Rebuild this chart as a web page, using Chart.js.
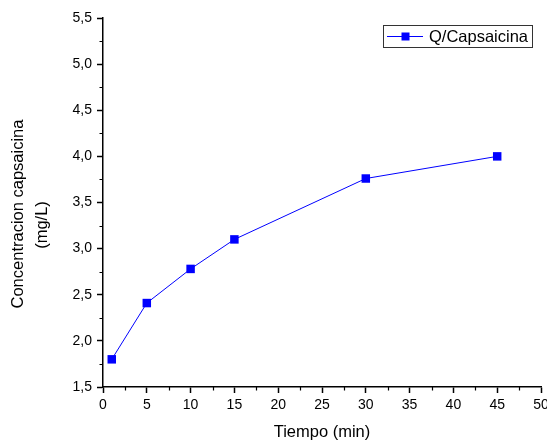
<!DOCTYPE html>
<html>
<head>
<meta charset="utf-8">
<script src="https://cdn.jsdelivr.net/npm/chart.js@4.4.1/dist/chart.umd.min.js"></script>
<style>
  html, body { margin: 0; padding: 0; background: #fff; }
  canvas { display: block; }
</style>
</head>
<body>
<canvas id="chart" width="547" height="444"></canvas>
<script>
// ── Data ──────────────────────────────────────────────────────────────────
const tiempo       = [1, 5, 10, 15, 30, 45];
const capsaicina   = [1.80, 2.41, 2.78, 3.10, 3.76, 4.00];
const seriesLabel  = 'Q/Capsaicina';
const xTitle       = 'Tiempo (min)';
const yTitle       = ['Concentracion capsaicina', '(mg/L)'];
const xMinorTicks  = [2.5, 7.5, 12.5, 17.5, 22.5, 27.5, 32.5, 37.5, 42.5, 47.5];
const yMinorTicks  = [1.75, 2.25, 2.75, 3.25, 3.75, 4.25, 4.75, 5.25];

const FONT = "'Liberation Sans', Arial, sans-serif";
const BLUE = '#0000ff';

// ── Minor ticks, axis titles and legend box ───────────────────────────────
const extras = {
  id: 'extras',
  afterDraw(chart) {
    const ctx = chart.ctx;
    const xs = chart.scales.x, ys = chart.scales.y;
    const area = chart.chartArea;

    ctx.save();
    ctx.strokeStyle = '#000';
    ctx.lineWidth = 1.2;
    ctx.beginPath();
    xMinorTicks.forEach(v => {
      const px = Math.round(xs.getPixelForValue(v)) + 0.5;
      ctx.moveTo(px, area.bottom);
      ctx.lineTo(px, area.bottom + 3.5);
    });
    yMinorTicks.forEach(v => {
      const py = Math.round(ys.getPixelForValue(v)) + 0.5;
      ctx.moveTo(area.left, py);
      ctx.lineTo(area.left - 3.5, py);
    });
    ctx.stroke();

    // axis titles
    ctx.fillStyle = '#000';
    ctx.font = `16.5px ${FONT}`;
    ctx.textAlign = 'center';
    ctx.textBaseline = 'middle';
    ctx.fillText(xTitle, 322, 432);

    ctx.save();
    ctx.translate(18, 214);
    ctx.rotate(-Math.PI / 2);
    ctx.fillText(yTitle[0], 0, 0);
    ctx.restore();
    ctx.save();
    ctx.translate(42, 225);
    ctx.rotate(-Math.PI / 2);
    ctx.fillText(yTitle[1], 0, 0);
    ctx.restore();

    // legend
    const ds = chart.data.datasets[0];
    ctx.strokeStyle = '#333';
    ctx.lineWidth = 1;
    ctx.strokeRect(383.5, 25.5, 149, 22);
    ctx.strokeStyle = ds.borderColor;
    ctx.beginPath();
    ctx.moveTo(387, 36.5);
    ctx.lineTo(423, 36.5);
    ctx.stroke();
    ctx.fillStyle = ds.pointBackgroundColor;
    ctx.fillRect(401.5, 32.5, 8, 8);
    ctx.fillStyle = '#000';
    ctx.textAlign = 'left';
    ctx.fillText(ds.label, 429, 37);
    ctx.restore();
  }
};

new Chart(document.getElementById('chart'), {
  type: 'line',
  data: {
    datasets: [{
      label: seriesLabel,
      data: tiempo.map((t, i) => ({ x: t, y: capsaicina[i] })),
      borderColor: BLUE,
      borderWidth: 1,
      pointStyle: 'rect',
      pointRadius: 6,
      pointBorderWidth: 0,
      pointBackgroundColor: BLUE,
      pointBorderColor: BLUE,
      tension: 0,
    }],
  },
  options: {
    responsive: false,
    animation: false,
    devicePixelRatio: 1,
    layout: { padding: { left: 0, top: 18, right: 5, bottom: 0 } },
    plugins: { legend: { display: false }, tooltip: { enabled: false } },
    scales: {
      x: {
        type: 'linear',
        min: 0, max: 50,
        border: { display: true, color: '#000', width: 1.5 },
        grid: { drawOnChartArea: false, drawTicks: true, tickLength: 6, tickColor: '#000', tickWidth: 1.5 },
        ticks: { stepSize: 5, color: '#000', font: { family: FONT, size: 14 }, padding: 4, maxRotation: 0 },
        afterFit: s => { s.height = 57; s.paddingLeft = 0; s.paddingRight = 0; },
      },
      y: {
        type: 'linear',
        min: 1.5, max: 5.5,
        border: { display: true, color: '#000', width: 1.5 },
        grid: { drawOnChartArea: false, drawTicks: true, tickLength: 6, tickColor: '#000', tickWidth: 1.5 },
        ticks: {
          stepSize: 0.5, color: '#000', font: { family: FONT, size: 14 }, padding: 5,
          callback: v => v.toFixed(1).replace('.', ','),
        },
        afterFit: s => { s.width = 103; s.paddingTop = 0; s.paddingBottom = 0; },
      },
    },
  },
  plugins: [extras],
});
</script>
</body>
</html>
